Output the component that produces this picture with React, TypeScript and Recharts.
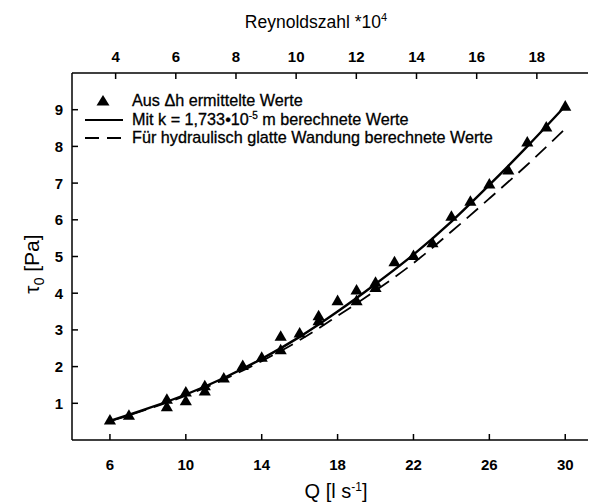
import { ComposedChart, Line, Scatter, XAxis, YAxis, Label } from "recharts";

const qTicks = [6, 10, 14, 18, 22, 26, 30];
const reTicks = [4, 6, 8, 10, 12, 14, 16, 18];
const tauTicks = [1, 2, 3, 4, 5, 6, 7, 8, 9];

// Aus Δh ermittelte Werte (Dreiecke)
const measuredQ = [6, 7, 9, 9, 10, 10, 11, 11, 12, 13, 14, 15, 15, 16, 17, 17, 18, 19, 19, 20, 20, 21, 22, 23, 24, 25, 26, 27, 28, 29, 30];
const measuredTau = [0.52, 0.65, 1.08, 0.88, 1.28, 1.04, 1.45, 1.31, 1.66, 2.0, 2.23, 2.8, 2.43, 2.89, 3.36, 3.22, 3.77, 4.06, 3.77, 4.27, 4.13, 4.83, 5.0, 5.35, 6.07, 6.48, 6.95, 7.33, 8.09, 8.5, 9.07];

// berechnete Kurven
const calcQ = [6, 8, 10, 12, 14, 16, 18, 20, 22, 24, 26, 28, 30];
const roughTau = [0.52, 0.86, 1.24, 1.69, 2.21, 2.81, 3.5, 4.25, 5.05, 5.95, 6.95, 8.0, 9.1];
const smoothTau = [0.51, 0.84, 1.21, 1.65, 2.15, 2.72, 3.38, 4.07, 4.82, 5.68, 6.58, 7.5, 8.48];

const measured = measuredQ.map((q, i) => ({ q, tau: measuredTau[i] }));
const rough = calcQ.map((q, i) => ({ q, tau: roughTau[i] }));
const smooth = calcQ.map((q, i) => ({ q, tau: smoothTau[i] }));
// only gives the top (Reynolds) axis something to hang on, draws nothing
const reAxisData = reTicks.map((re) => ({ re }));

const FONT = "'Liberation Sans', Arial, Helvetica, sans-serif";
const TICK = 6;
const M_BOTTOM = 19;
const M_TOP = 11;
const M_LEFT = 9;

const tickText = { fontFamily: FONT, fontSize: 15, fontWeight: 700, fill: "#000" };

function BottomTick({ x, y, payload }: any) {
  return (
    <g>
      <line x1={x} x2={x} y1={y - M_BOTTOM} y2={y - M_BOTTOM - TICK} stroke="#000" strokeWidth={1.5} />
      <text x={x} y={y} dy="0.71em" textAnchor="middle" {...tickText}>{payload.value}</text>
    </g>
  );
}

function TopTick({ x, y, payload }: any) {
  return (
    <g>
      <line x1={x} x2={x} y1={y + M_TOP} y2={y + M_TOP + TICK} stroke="#000" strokeWidth={1.5} />
      <text x={x} y={y} textAnchor="middle" {...tickText}>{payload.value}</text>
    </g>
  );
}

function LeftTick({ x, y, payload }: any) {
  return (
    <g>
      <line x1={x + M_LEFT} x2={x + M_LEFT + TICK} y1={y} y2={y} stroke="#000" strokeWidth={1.5} />
      <text x={x} y={y} dy="0.36em" textAnchor="end" {...tickText}>{payload.value}</text>
    </g>
  );
}

function Legend() {
  const t = { fontFamily: FONT, fontSize: 16.2, fill: "#000", stroke: "#000", strokeWidth: 0.3 };
  return (
    <svg width={592} height={504} style={{ position: "absolute", left: 0, top: 0, pointerEvents: "none" }}>
      <path d="M103,95 L109.5,105.5 L96.5,105.5 Z" fill="#000" />
      <text x={132} y={106} {...t}>Aus Δh ermittelte Werte</text>
      <line x1={85} x2={123} y1={120} y2={120} stroke="#000" strokeWidth={2.2} />
      <text x={132} y={125} {...t}>
        Mit k = 1,733•10<tspan dy={-6} fontSize={10}>-5</tspan>
        <tspan dy={6}> m berechnete Werte</tspan>
      </text>
      <line x1={85} x2={123} y1={138} y2={138} stroke="#000" strokeWidth={1.8} strokeDasharray="14 8" />
      <text x={132} y={143} {...t}>Für hydraulisch glatte Wandung berechnete Werte</text>
    </svg>
  );
}

export default function App() {
  return (
    <div style={{ position: "absolute", left: 0, top: 0, width: 592, height: 504, background: "#fff" }}>
      <ComposedChart width={592} height={504} margin={{ top: 0, right: 4, bottom: 0, left: 0 }}>
        <XAxis
          xAxisId="q"
          dataKey="q"
          type="number"
          domain={[4, 31.2]}
          allowDataOverflow
          ticks={qTicks}
          height={64}
          tickSize={0}
          tickMargin={M_BOTTOM}
          tickLine={false}
          tick={<BottomTick />}
          axisLine={{ stroke: "#000", strokeWidth: 1.5 }}
        >
          <Label
            content={({ viewBox }: any) => (
              <text
                x={viewBox.x + viewBox.width / 2 + 6}
                y={491}
                textAnchor="middle"
                dy="0.35em"
                fontFamily={FONT}
                fontSize={20}
                fill="#000"
              >
                Q [l s<tspan dy={-7} fontSize={12}>-1</tspan><tspan dy={7}>]</tspan>
              </text>
            )}
          />
        </XAxis>
        <XAxis
          xAxisId="re"
          dataKey="re"
          orientation="top"
          type="number"
          domain={[2.55, 19.7]}
          allowDataOverflow
          ticks={reTicks}
          height={73}
          tickSize={0}
          tickMargin={M_TOP}
          tickLine={false}
          tick={<TopTick />}
          axisLine={{ stroke: "#000", strokeWidth: 1.5 }}
        >
          <Label
            content={() => (
              <text x={316} y={28} textAnchor="middle" fontFamily={FONT} fontSize={17.5} fill="#000">
                Reynoldszahl *10<tspan dy={-7} fontSize={11}>4</tspan>
              </text>
            )}
          />
        </XAxis>
        <YAxis
          yAxisId="tau"
          dataKey="tau"
          type="number"
          domain={[0, 10]}
          allowDataOverflow
          ticks={tauTicks}
          width={72}
          tickSize={0}
          tickMargin={M_LEFT}
          tickLine={false}
          tick={<LeftTick />}
          axisLine={{ stroke: "#000", strokeWidth: 1.5 }}
        >
          <Label
            content={() => {
              const cy = 264;
              return (
                <text
                  x={32}
                  y={cy}
                  transform={`rotate(-90, 32, ${cy})`}
                  textAnchor="middle"
                  dy="0.35em"
                  fontFamily={FONT}
                  fontSize={21}
                  fill="#000"
                >
                  τ<tspan dy={5} fontSize={14}>0</tspan><tspan dy={-5}> [Pa]</tspan>
                </text>
              );
            }}
          />
        </YAxis>
        <Line
          xAxisId="re"
          yAxisId="tau"
          data={reAxisData}
          dataKey="tau"
          stroke="none"
          dot={false}
          legendType="none"
          isAnimationActive={false}
        />
        <Line
          xAxisId="q"
          yAxisId="tau"
          data={smooth}
          dataKey="tau"
          type="monotone"
          stroke="#000"
          strokeWidth={1.8}
          strokeDasharray="15 8"
          dot={false}
          isAnimationActive={false}
        />
        <Line
          xAxisId="q"
          yAxisId="tau"
          data={rough}
          dataKey="tau"
          type="monotone"
          stroke="#000"
          strokeWidth={2.4}
          dot={false}
          isAnimationActive={false}
        />
        <Scatter
          xAxisId="q"
          yAxisId="tau"
          data={measured}
          dataKey="tau"
          shape="triangle"
          size={72}
          fill="#000"
          legendType="triangle"
          isAnimationActive={false}
        />
      </ComposedChart>
      <Legend />
    </div>
  );
}
